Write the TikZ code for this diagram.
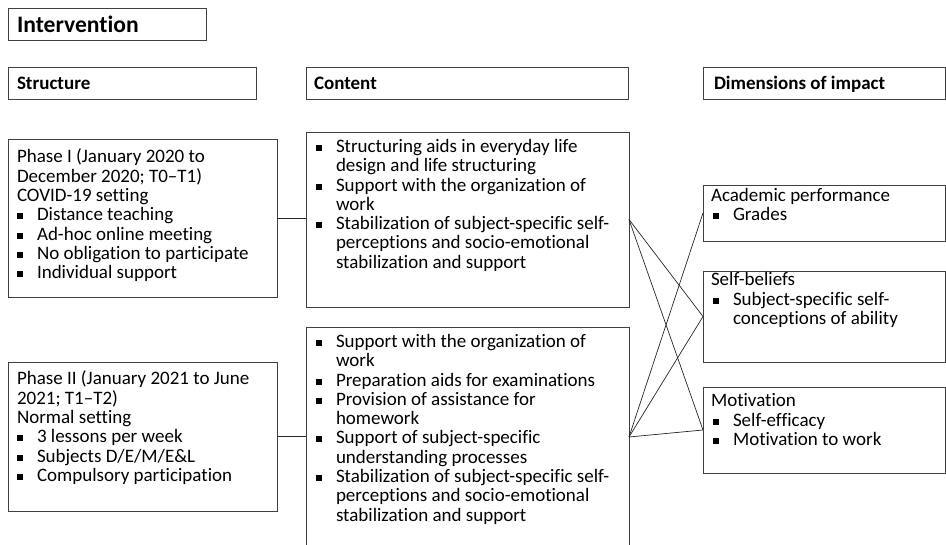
\documentclass[tikz,border=0pt]{standalone}
\usepackage{fontspec}
\setmainfont[Ligatures={NoCommon}]{Carlito}
\newcommand\sqb{\rule[1.5pt]{6pt}{6pt}}
\newcommand\bs{\makebox[20pt][l]{\sqb}}
\newcommand\bd{\makebox[22pt][l]{\hspace{2pt}\sqb}}
\newcommand\ind{\hspace*{20pt}}
\newcommand\indd{\hspace*{22pt}}
\newcommand\lines[1]{\begin{tabular}[t]{@{}l@{}}#1\end{tabular}}
\begin{document}
\begin{tikzpicture}[x=1pt,y=-1pt,
  every node/.style={inner sep=0pt, outer sep=0pt},
  box/.style={draw=black!75, line width=0.8pt, anchor=north west},
  txt/.style={anchor=base west, font=\fontsize{19}{19.3}\selectfont},
  head/.style={anchor=base west, font=\bfseries\fontsize{19}{19.3}\selectfont},
  link/.style={draw=black!85, line width=0.7pt}]
\useasboundingbox (0,0) rectangle (946,545);
% header boxes
\node[box, minimum width=198pt, minimum height=32pt] (ibox) at (8,8) {};
\node[box, minimum width=248pt, minimum height=32pt] (hstruct) at (8,67) {};
\node[box, minimum width=322pt, minimum height=32pt] (hcont) at (306,67) {};
\node[box, minimum width=242pt, minimum height=32pt] (hdim) at (703,67) {};
\node[anchor=base west, font=\bfseries\fontsize{23.6}{26}\selectfont] (ti) at (17,33) {Intervention};
\node[head] (ts) at (17,90) {Structure};
\node[head] (tc) at (314,90) {Content};
\node[head] (tdim) at (714,90) {Dimensions of impact};
% structure boxes
\node[box, minimum width=269pt, minimum height=158pt] (p1) at (8,139) {};
\node[box, minimum width=269pt, minimum height=149pt] (p2) at (8,362) {};
\node[txt] (p1t) at (17,162.5) {\lines{Phase I (January 2020 to\\December 2020; T0–T1)\\COVID-19 setting\\\bs Distance teaching\\\bs Ad-hoc online meeting\\\bs No obligation to participate\\\bs Individual support}};
\node[txt] (p2t) at (17,384.5) {\lines{Phase II (January 2021 to June\\2021; T1–T2)\\Normal setting\\\bs 3 lessons per week\\\bs Subjects D/E/M/E\&L\\\bs Compulsory participation}};
% content boxes
\node[box, minimum width=323pt, minimum height=175pt] (c1) at (306,132) {};
\node[box, minimum width=323pt, minimum height=220pt] (c2) at (306,327) {};
\node[txt] (c1t) at (316,152.5) {\lines{\bs Structuring aids in everyday life\\\ind design and life structuring\\\bs Support with the organization of\\\ind work\\\bs Stabilization of subject-specific self-\\\ind perceptions and socio-emotional\\\ind stabilization and support}};
\node[txt] (c2t) at (316,347.5) {\lines{\bs Support with the organization of\\\ind work\\\bs Preparation aids for examinations\\\bs Provision of assistance for\\\ind homework\\\bs Support of subject-specific\\\ind understanding processes\\\bs Stabilization of subject-specific self-\\\ind perceptions and socio-emotional\\\ind stabilization and support}};
% dimension boxes
\node[box, minimum width=242pt, minimum height=56pt] (d1) at (703,185) {};
\node[box, minimum width=242pt, minimum height=91pt] (d2) at (703,271) {};
\node[box, minimum width=242pt, minimum height=86pt] (d3) at (703,387) {};
\node[txt] (d1t) at (711,201.5) {\lines{Academic performance\\\bd Grades}};
\node[txt] (d2t) at (711,286) {\lines{Self-beliefs\\\bd Subject-specific self-\\\indd conceptions of ability}};
\node[txt] (d3t) at (711,407) {\lines{Motivation\\\bd Self-efficacy\\\bd Motivation to work}};
% connectors
\draw[link] (p1.east) -- (p1.east -| c1.west);
\draw[link] (p2.east) -- (p2.east -| c2.west);
\draw[link] (c1.east) -- (d2.west);
\draw[link] (c1.east) -- (d3.west);
\draw[link] (c2.east) -- (d1.west);
\draw[link] (c2.east) -- (d2.west);
\draw[link] (c2.east) -- (d3.west);
\end{tikzpicture}
\end{document}
